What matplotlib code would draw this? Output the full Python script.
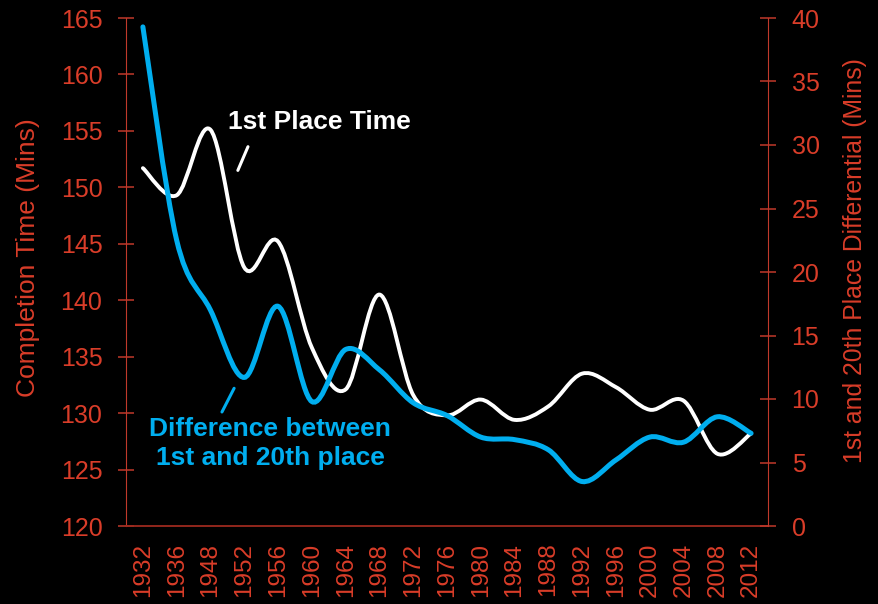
import matplotlib
matplotlib.use("Agg")
import matplotlib.pyplot as plt
import numpy as np
from matplotlib.path import Path
from matplotlib.patches import PathPatch

years = ["1932", "1936", "1948", "1952", "1956", "1960", "1964", "1968", "1972", "1976",
         "1980", "1984", "1988", "1992", "1996", "2000", "2004", "2008", "2012"]
first_place = [151.7, 149.3, 155.1, 142.9, 145.2, 135.8, 132.1, 140.5, 131.6, 129.8,
               131.2, 129.4, 130.6, 133.5, 132.3, 130.3, 131.1, 126.4, 128.2]
difference = [39.3, 22.5, 17.0, 11.7, 17.3, 9.8, 13.9, 12.3, 9.7, 8.7,
              7.0, 6.8, 6.0, 3.5, 5.2, 7.0, 6.6, 8.6, 7.3]

left_ticks = [120, 125, 130, 135, 140, 145, 150, 155, 160, 165]
right_ticks = [0, 5, 10, 15, 20, 25, 30, 35, 40]

RED = "#D93D29"
SPINE = "#C0392B"
BOTTOM = "#9E2A1E"
BLUE = "#00AEEF"

plt.rcParams['font.family'] = ['Liberation Sans', 'DejaVu Sans']

fig = plt.figure(figsize=(8.79, 6.04), dpi=100, facecolor="black")
ax = fig.add_axes([126/879, (604-526)/604, (768-126)/879, (526-18)/604])
ax.set_facecolor("black")
ax2 = ax.twinx()


def smooth_path(xs, ys):
    xs = np.asarray(xs, float)
    ys = np.asarray(ys, float)
    px = np.concatenate([[xs[0]], xs, [xs[-1]]])
    py = np.concatenate([[ys[0]], ys, [ys[-1]]])
    verts = [(xs[0], ys[0])]
    codes = [Path.MOVETO]
    for i in range(1, len(px) - 2):
        c1 = (px[i] + (px[i+1] - px[i-1]) / 6, py[i] + (py[i+1] - py[i-1]) / 6)
        c2 = (px[i+1] - (px[i+2] - px[i]) / 6, py[i+1] - (py[i+2] - py[i]) / 6)
        verts += [c1, c2, (px[i+1], py[i+1])]
        codes += [Path.CURVE4] * 3
    return Path(verts, codes)


x = np.arange(len(years))
ax.add_patch(PathPatch(smooth_path(x, first_place), facecolor="none",
                       edgecolor="white", lw=2.8, capstyle="round", zorder=3))
ax2.add_patch(PathPatch(smooth_path(x, difference), facecolor="none",
                        edgecolor=BLUE, lw=3.6, capstyle="round", zorder=4))

ax.set_xlim(-0.5, len(years) - 0.5)
ax.set_ylim(120, 165)
ax2.set_ylim(0, 40)
ax.set_yticks(left_ticks)
ax2.set_yticks(right_ticks)
ax.set_xticks(x)
ax.set_xticklabels(years, rotation=90)

for a in (ax, ax2):
    for s in a.spines.values():
        s.set_visible(False)
ax.spines['left'].set_visible(True)
ax.spines['left'].set_color(SPINE)
ax.spines['bottom'].set_visible(True)
ax.spines['bottom'].set_color(BOTTOM)
ax.spines['bottom'].set_linewidth(1.3)
ax2.spines['right'].set_visible(True)
ax2.spines['right'].set_color(SPINE)

ax.tick_params(axis='y', direction='inout', length=12, width=1.1, color=SPINE,
               labelcolor=RED, labelsize=18, pad=11)
ax2.tick_params(axis='y', direction='inout', length=12, width=1.1, color=SPINE,
                labelcolor=RED, labelsize=18, pad=11)
ax.tick_params(axis='x', length=0, labelcolor=RED, labelsize=17.5, pad=12)

fig.text(28/879, 1 - 257.5/604, "Completion Time (Mins)", color=RED, fontsize=19,
         rotation=90, ha="center", va="center")
fig.text(855/879, 1 - 260.5/604, "1st and 20th Place Differential (Mins)", color=RED,
         fontsize=17.8, rotation=90, ha="center", va="center")

ax.text(5.21, 155.8, "1st Place Time", color="white", fontsize=19,
        fontweight="bold", ha="center", va="center", zorder=6)
ax.annotate("", xy=(3.11, 153.6), xytext=(2.81, 151.5),
            arrowprops=dict(arrowstyle="-", color="white", lw=2.2, shrinkA=0, shrinkB=0))
ax.text(3.76, 127.3, "Difference between\n1st and 20th place", color=BLUE, fontsize=19,
        fontweight="bold", ha="center", va="center", linespacing=1.25, zorder=6)
ax.annotate("", xy=(2.70, 132.2), xytext=(2.34, 130.1),
            arrowprops=dict(arrowstyle="-", color=BLUE, lw=2.2, shrinkA=0, shrinkB=0))

fig.savefig("out.png", dpi=100, facecolor="black")
